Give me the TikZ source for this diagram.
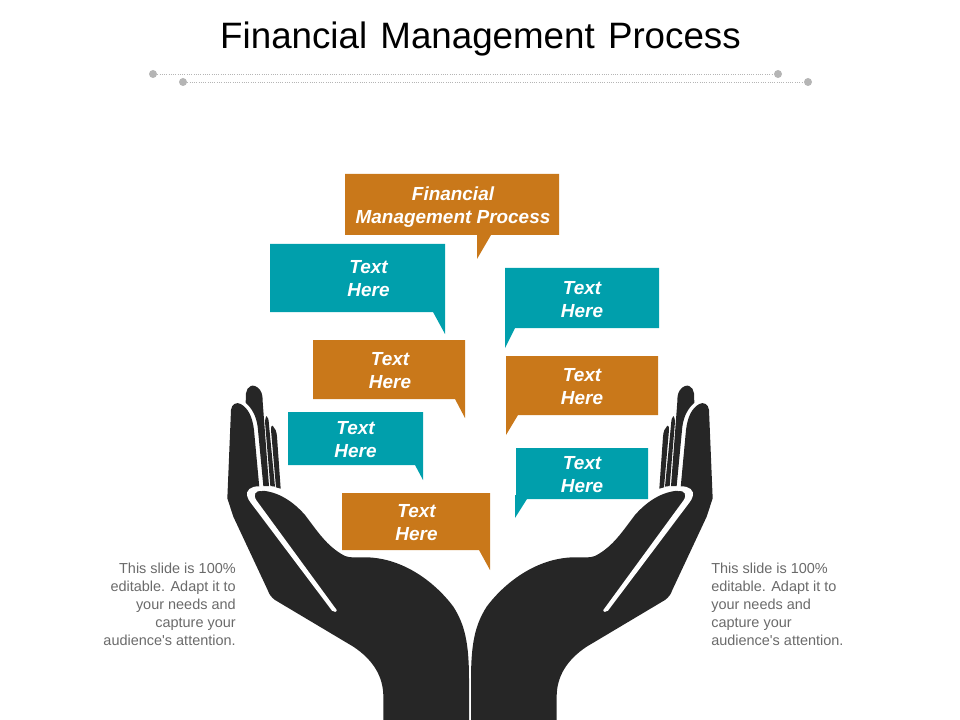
\documentclass[tikz,border=0pt]{standalone}
\usepackage{fontspec}
\setmainfont{Liberation Sans}
\definecolor{tealbox}{HTML}{009FAC}
\definecolor{orangebox}{HTML}{C9781A}
\definecolor{handdark}{HTML}{262626}
\definecolor{sidegrey}{HTML}{6A6A6A}
\definecolor{dotgrey}{HTML}{B5B5B5}
\tikzset{
  calltext/.style={text=white,align=center,inner sep=0pt,font=\fontsize{14.2}{17.25}\selectfont\bfseries\itshape},
  sidetext/.style={text=sidegrey,inner sep=0pt,font=\fontsize{10.85}{13.5}\selectfont},
  enddot/.style={circle,fill=dotgrey,inner sep=0pt,minimum size=6pt},
  dotline/.style={draw=dotgrey,densely dotted,line width=0.7pt},
}
\newcommand{\handshape}{
  \fill[handdark] (22,355) -- (33,90) .. controls (35,72) and (50,65) .. (62,72)
    .. controls (85,85) and (97,110) .. (102,150) -- (118,322) -- (125,332)
    .. controls (175,335) and (220,365) .. (255,405)
    .. controls (290,450) and (320,500) .. (375,528)
    .. controls (390,534) and (410,532) .. (430,532)
    .. controls (540,530) and (640,600) .. (700,680)
    .. controls (735,735) and (747,790) .. (747,900) -- (747,1020)
    -- (490,1020) -- (490,950) .. controls (490,890) and (460,840) .. (400,800)
    -- (165,660) .. controls (155,652) and (148,645) .. (143,630) -- (40,410) -- cycle;
  \fill[white] (350,690) .. controls (352,696) and (340,698) .. (336,692) -- (92,368)
    .. controls (72,342) and (82,326) .. (100,321)
    .. controls (112,317) and (128,319) .. (140,326) -- (125,333)
    .. controls (105,331) and (98,345) .. (110,362) -- cycle;
  % fingers behind
  \fill[handdark] (77,68) -- (78,40) .. controls (80,20) and (100,5) .. (120,30)
    .. controls (127,40) and (128,50) .. (128,65) -- (147,318) -- (130,318) -- (113,140)
    .. controls (108,105) and (95,85) .. (77,68) -- cycle;
  \fill[handdark] (135,125) .. controls (136,115) and (138,108) .. (140,108)
    .. controls (145,112) and (146,120) .. (147,135) -- (165,320) -- (151,318) -- cycle;
  \fill[handdark] (153,150) .. controls (153,140) and (155,135) .. (158,137)
    .. controls (166,145) and (170,155) .. (171,170) -- (182,326) -- (168,322) -- cycle;
}
\begin{document}
\begin{tikzpicture}[x=0.75pt,y=-0.75pt]
\useasboundingbox (0,0) rectangle (960,720);

\draw (480.5,39) node (title) [inner sep=0pt,font=\fontsize{27.55}{32}\selectfont] {Financial\hspace{2.25pt} Management\hspace{2.25pt} Process};

\node (dota) [enddot] at (153,74) {};
\node (dotb) [enddot] at (778,74) {};
\node (dotc) [enddot] at (183,82) {};
\node (dotd) [enddot] at (808,82) {};
\draw[dotline] (dota) -- (dotb);
\draw[dotline] (dotc) -- (dotd);

% hands
\begin{scope}[shift={(220,380)},x=0.25pt,y=-0.25pt]
\handshape
\end{scope}
\begin{scope}[shift={(720,380)},x=-0.25pt,y=-0.25pt]
\handshape
\end{scope}

% left callouts
\fill[tealbox] (270,244) -- (445,244) -- (445,334) -- (433,312) -- (270,312) -- cycle;
\fill[orangebox] (313,340) -- (465,340) -- (465,418) -- (455,399) -- (313,399) -- cycle;
\fill[tealbox] (288,412) -- (423,412) -- (423,480) -- (415,465) -- (288,465) -- cycle;
\fill[orangebox] (342,493) -- (490,493) -- (490,570) -- (479,550) -- (342,550) -- cycle;
% top and right callouts
\fill[orangebox] (345,174) -- (559,174) -- (559,235) -- (491,235) -- (477,259) -- (477,235) -- (345,235) -- cycle;
\fill[tealbox] (505,268) -- (659,268) -- (659,328) -- (515,328) -- (505,348) -- cycle;
\fill[orangebox] (506,356) -- (658,356) -- (658,415) -- (518,415) -- (506,435) -- cycle;
\fill[tealbox] (516,448) -- (648,448) -- (648,499) -- (527,499) -- (515,518) -- (515,495) -- (516,495) -- cycle;

\draw (453,207.5) node (boxtop) [calltext] {Financial\\Management Process};
\draw (368.5,278.5) node (boxa) [calltext] {Text\\Here};
\draw (390,370.5) node (boxb) [calltext] {Text\\Here};
\draw (355.5,439.5) node (boxc) [calltext] {Text\\Here};
\draw (416.5,522.5) node (boxd) [calltext] {Text\\Here};
\draw (582,299.5) node (boxe) [calltext] {Text\\Here};
\draw (582,386.5) node (boxf) [calltext] {Text\\Here};
\draw (582,474.5) node (boxg) [calltext] {Text\\Here};

\node (sideleft) [sidetext,align=right,anchor=east] at (236,604) {This slide is 100\%\\editable. Adapt it to\\your needs and\\capture your\\audience\textquotesingle s attention.};
\node (sideright) [sidetext,align=left,anchor=west] at (711,604) {This slide is 100\%\\editable. Adapt it to\\your needs and\\capture your\\audience\textquotesingle s attention.};

\end{tikzpicture}
\end{document}
